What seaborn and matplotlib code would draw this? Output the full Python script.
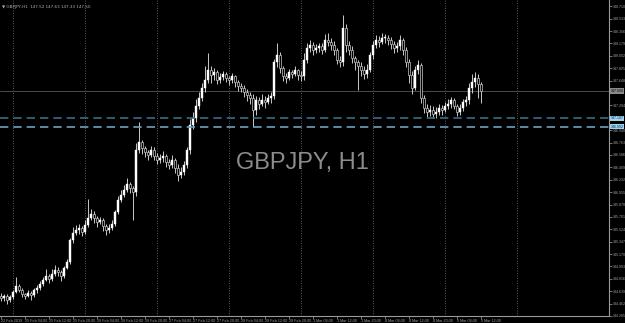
import numpy as np
import pandas as pd
import matplotlib
matplotlib.use("Agg")
import matplotlib.pyplot as plt
import seaborn as sns

# ---------------- data (GBPJPY H1) ----------------
first_open = 144.57
close = [144.54,144.57,144.51,144.56,144.63,144.71,144.66,144.60,144.57,144.61,
         144.58,144.66,144.68,144.74,144.80,144.86,144.81,144.89,144.94,144.91,
         144.86,144.97,145.06,145.37,145.47,145.51,145.54,145.49,145.59,145.69,
         145.74,145.69,145.63,145.66,145.57,145.51,145.54,145.60,145.77,145.94,
         146.01,146.09,146.17,146.11,146.06,146.66,146.77,146.69,146.63,146.59,
         146.66,146.57,146.51,146.54,146.57,146.49,146.44,146.51,146.40,146.30,
         146.34,146.44,146.66,147.01,147.11,147.29,147.40,147.54,147.66,147.80,
         147.73,147.77,147.66,147.70,147.74,147.69,147.66,147.71,147.63,147.57,
         147.54,147.49,147.44,147.40,147.23,147.37,147.31,147.37,147.34,147.40,
         147.43,147.91,148.01,147.83,147.71,147.69,147.77,147.74,147.80,147.73,
         147.71,147.94,148.11,148.16,148.09,148.11,148.14,148.09,148.23,148.20,
         148.16,148.09,147.94,147.91,148.40,148.16,148.09,147.97,147.91,147.86,
         147.80,147.74,147.80,148.01,148.16,148.23,148.20,148.26,148.26,148.23,
         148.17,148.11,148.14,148.23,148.09,147.91,147.73,147.54,147.80,147.87,
         147.40,147.26,147.20,147.23,147.17,147.20,147.26,147.23,147.29,147.31,
         147.37,147.29,147.20,147.26,147.34,147.37,147.54,147.63,147.69,147.60,147.50]
high = [144.62,144.60,144.60,144.59,144.66,144.84,144.74,144.68,144.62,144.65,
        144.64,144.69,144.73,144.78,144.84,144.95,144.88,144.96,145.02,144.98,
        144.94,145.00,145.10,145.40,145.55,145.58,145.60,145.57,145.66,145.96,
        145.82,145.78,145.72,145.70,145.68,145.60,145.60,145.66,145.80,146.00,
        146.08,146.16,146.25,146.20,146.14,146.75,147.05,146.80,146.72,146.66,
        146.72,146.70,146.62,146.60,146.64,146.60,146.53,146.58,146.54,146.45,
        146.42,146.50,146.70,147.10,147.20,147.38,147.48,147.62,147.85,148.04,
        147.85,147.83,147.80,147.76,147.79,147.77,147.72,147.76,147.73,147.66,
        147.62,147.58,147.53,147.48,147.45,147.43,147.42,147.45,147.43,147.46,
        147.49,147.96,148.19,148.05,147.86,147.76,147.82,147.80,147.85,147.82,
        147.79,148.04,148.18,148.23,148.20,148.17,148.19,148.18,148.31,148.33,
        148.25,148.21,148.11,148.00,148.59,148.46,148.22,148.14,148.00,147.94,
        147.92,147.86,147.88,148.06,148.22,148.30,148.29,148.33,148.31,148.30,
        148.27,148.22,148.20,148.30,148.26,148.13,147.95,147.78,147.85,147.94,
        147.90,147.44,147.32,147.30,147.28,147.27,147.31,147.30,147.34,147.38,
        147.42,147.40,147.32,147.31,147.38,147.43,147.62,147.74,147.77,147.74,147.63]
low = [144.50,144.50,144.46,144.49,144.53,144.61,144.63,144.56,144.53,144.55,
       144.52,144.56,144.62,144.66,144.72,144.78,144.76,144.79,144.86,144.85,
       144.79,144.83,144.95,145.03,145.33,145.44,145.46,145.43,145.45,145.55,
       145.66,145.62,145.56,145.60,145.50,145.44,145.47,145.51,145.57,145.74,
       145.92,145.98,146.05,146.04,145.66,146.00,146.62,146.60,146.55,146.52,
       146.55,146.52,146.45,146.47,146.49,146.42,146.38,146.40,146.33,146.22,
       146.25,146.30,146.40,146.60,146.95,147.05,147.24,147.36,147.48,147.62,
       147.62,147.66,147.60,147.62,147.66,147.63,147.59,147.61,147.56,147.50,
       147.48,147.42,147.36,147.32,146.99,147.16,147.24,147.28,147.26,147.31,
       147.33,147.38,147.84,147.76,147.64,147.62,147.66,147.68,147.71,147.66,
       147.64,147.66,147.90,148.06,148.02,148.04,148.06,148.03,148.06,148.14,
       148.08,148.02,147.88,147.84,147.86,148.06,148.02,147.90,147.80,147.51,
       147.72,147.67,147.69,147.77,147.96,148.12,148.13,148.17,148.19,148.16,
       148.10,148.04,148.06,148.09,148.02,147.84,147.62,147.45,147.52,147.74,
       147.33,147.18,147.13,147.14,147.12,147.12,147.16,147.16,147.20,147.24,
       147.26,147.24,147.14,147.15,147.22,147.28,147.32,147.47,147.55,147.40,147.33]

ytick_labels = ["144.285","144.462","144.639","144.816","144.993","145.170","145.347",
                "145.524","145.701","145.878","146.055","146.232","146.409","146.586",
                "146.763","146.940","147.294","147.648","147.825",
                "148.002","148.179","148.356","148.533","148.710"]
xtick_bars = [0,8,16,24,32,40,48,56,64,72,80,88,96,104,112,120,128,136,144,152,160]
xtick_labels = ["22 Feb 2019","25 Feb 04:00","25 Feb 12:00","25 Feb 20:00","26 Feb 04:00",
                "26 Feb 12:00","26 Feb 20:00","27 Feb 04:00","27 Feb 12:00","27 Feb 20:00",
                "28 Feb 04:00","28 Feb 12:00","28 Feb 20:00","1 Mar 04:00","1 Mar 12:00",
                "1 Mar 20:00","4 Mar 04:00","4 Mar 12:00","4 Mar 20:00","5 Mar 04:00",
                "5 Mar 12:00"]
grid_bars = [4,28,52,76,100,124,148,172]
bid_price = 147.50
level_lines = [147.107, 146.992]
title = "GBPJPY, H1"
info_text = "\u25BC GBPJPY,H1  147.52 147.63 147.33 147.50"

# ---------------- frame ----------------
opens = [first_open] + close[:-1]
df = pd.DataFrame({"bar": np.arange(len(close)), "open": opens, "close": close,
                   "high": high, "low": low})

sns.set_theme(style="dark")
plt.rcParams['font.family'] = ['Liberation Sans', 'DejaVu Sans']

W, H = 625, 323
fig = plt.figure(figsize=(W/100, H/100), dpi=100, facecolor="black")
ax = fig.add_axes([0, 7/H, 609/W, 1 - 7/H])
ax.set_facecolor("black")

ymin, ymax = 144.285, 148.80
ax.set_ylim(ymin, ymax)
ax.set_xlim(-0.33, 609/3 - 0.33)

# grid
for g in grid_bars:
    ax.axvline(g - 0.1, color="#7a7a7a", lw=0.6, ls=(0, (1, 2)), zorder=0)

# candles
bull = df["close"] >= df["open"]
ax.vlines(df["bar"], df["low"], df["high"], color="#e8e8e8", lw=0.6, zorder=2)
body = (df["close"] - df["open"]).to_numpy()
body = np.where(np.abs(body) < 0.006, 0.006, body)
ax.bar(df["bar"][bull], body[bull.to_numpy()], bottom=df["open"][bull], width=0.7,
       color="white", edgecolor="white", lw=0.3, zorder=3)
ax.bar(df["bar"][~bull], body[~bull.to_numpy()], bottom=df["open"][~bull], width=0.7,
       color="black", edgecolor="#c8c8c8", lw=0.5, zorder=3)

# price line and levels
ax.axhline(bid_price, color="#4a4a4a", lw=0.7, zorder=1)
ax.axhline(level_lines[0], color="#3d6a88", lw=1.2, ls=(0, (5, 3)), zorder=4)
ax.axhline(level_lines[1], color="#6fa0c0", lw=1.2, ls=(0, (5, 3)), zorder=4)

# axes styling
for s in ["top", "left"]:
    ax.spines[s].set_visible(False)
for s in ["right", "bottom"]:
    ax.spines[s].set_visible(True)
    ax.spines[s].set_color("#9a9a9a")
    ax.spines[s].set_linewidth(0.8)
ax.grid(False)

yt = [float(v) for v in ytick_labels]
ax.yaxis.tick_right()
ax.set_yticks(yt)
ax.set_yticklabels(ytick_labels)
ax.tick_params(axis="y", colors="#a0a0a0", labelsize=2.6, length=2, width=0.5, pad=0.8,
               right=True, left=False)
ax.set_xticks(xtick_bars)
ax.set_xticklabels(xtick_labels, ha="left")
ax.tick_params(axis="x", colors="#a0a0a0", labelsize=2.7, length=2, width=0.5, pad=0.5,
               bottom=True)

# right-side price boxes
def price_box(y, text, fc, tc):
    ax.annotate(text, xy=(1, y), xycoords=("axes fraction", "data"),
                xytext=(1.0, 0), textcoords="offset points", fontsize=2.6, color=tc,
                va="center", ha="left",
                bbox=dict(boxstyle="square,pad=0.2", fc=fc, ec=fc, lw=0),
                annotation_clip=False, zorder=10)

price_box(bid_price, f"{bid_price:.3f}", "#8a8a8a", "black")
price_box(level_lines[0], f"{level_lines[0]:.3f}", "#9fd3f0", "#003050")
price_box(level_lines[1], f"{level_lines[1]:.3f}", "#9fd3f0", "#003050")

# watermark title and info line
ax.text(0.497, 0.485, title, transform=ax.transAxes, fontsize=17, color="#8c8c8c",
        ha="center", va="center", zorder=1)
ax.text(0.004, 0.985, info_text, transform=ax.transAxes, fontsize=3.0, color="#b0b0b0",
        ha="left", va="top", family=['DejaVu Sans'])

fig.savefig("out.png", dpi=100, facecolor="black")
